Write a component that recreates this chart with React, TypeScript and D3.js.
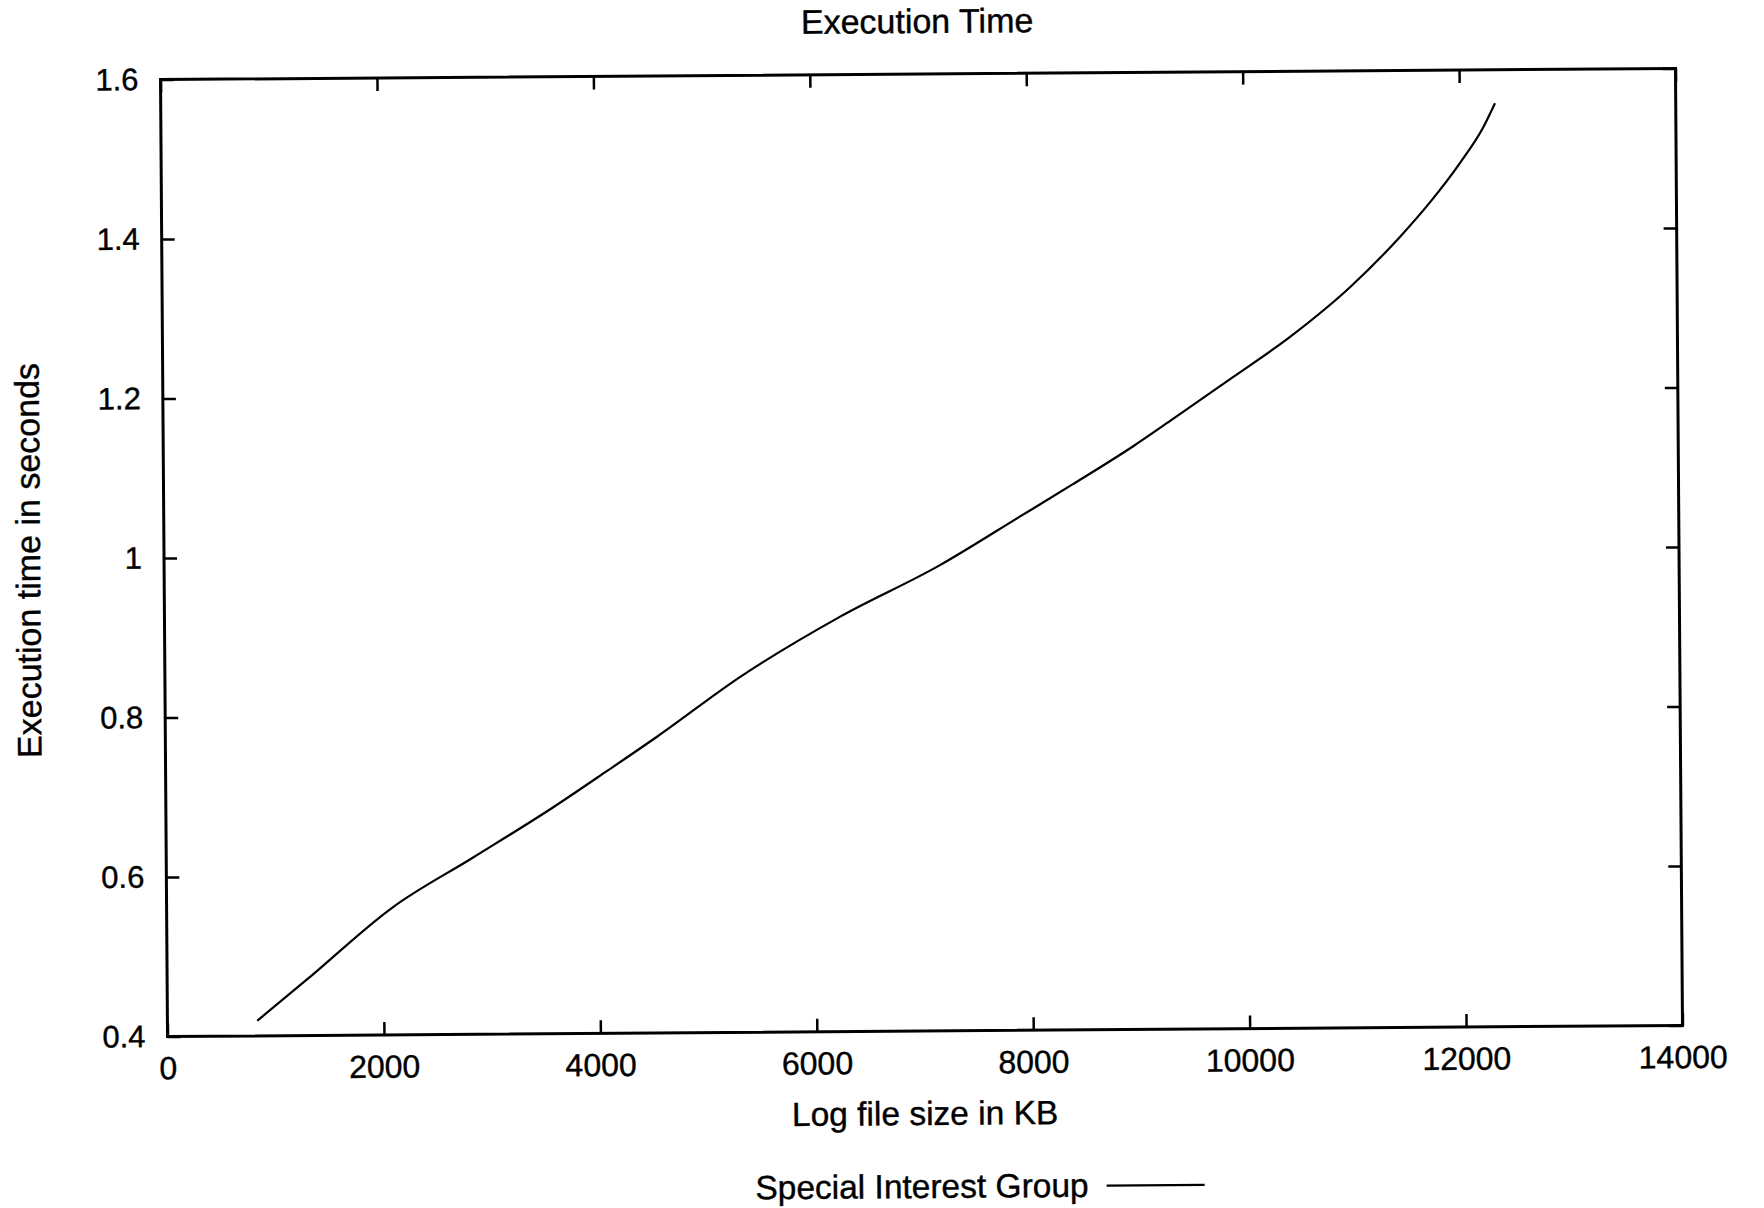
import * as d3 from 'd3';
import React, { useRef, useEffect } from 'react';

// values
const fileSizes = [830, 1290, 2090, 2840, 3580, 4080, 4550, 5320, 6240, 7170, 7910, 8400, 8960, 9310, 9890, 10420, 10980, 11440, 11720, 12000, 12220, 12330];
const execTimes = [0.419, 0.470, 0.560, 0.622, 0.684, 0.729, 0.772, 0.846, 0.920, 0.984, 1.044, 1.084, 1.131, 1.163, 1.217, 1.267, 1.329, 1.391, 1.434, 1.483, 1.528, 1.558];
const xTicks = [0, 2000, 4000, 6000, 8000, 10000, 12000, 14000];
const yTicks = [0.4, 0.6, 0.8, 1, 1.2, 1.4, 1.6];
const seriesName = 'Special Interest Group';

const FONT = '"Liberation Sans", Arial, Helvetica, sans-serif';

function ExecutionChart({ width, height }: { width: number; height: number }) {
  const ref = useRef<SVGSVGElement | null>(null);

  useEffect(() => {
    const left = 164, right = 1679, top = 74, bottom = 1031;

    const svg = d3.select(ref.current);
    svg.selectAll('*').remove();
    svg.attr('width', width).attr('height', height);

    svg.append('rect')
      .attr('width', width).attr('height', height)
      .attr('fill', '#fff');

    // the scan is tilted a little
    const g = svg.append('g').attr('transform', 'rotate(-0.42 921 552)');

    const x = d3.scaleLinear().domain([0, 14000]).range([left, right]);
    const y = d3.scaleLinear().domain([0.4, 1.6]).range([bottom, top]);

    const styleAxis = (sel: any, size: number) => {
      sel.select('.domain').remove();
      sel.selectAll('line').attr('stroke', '#000').attr('stroke-width', 2.5);
      sel.selectAll('text')
        .attr('fill', '#000')
        .attr('stroke', '#000')
        .attr('stroke-width', 0.4)
        .style('font-family', FONT)
        .style('font-size', size + 'px');
    };

    g.append('g')
      .attr('transform', `translate(0,${bottom})`)
      .call(d3.axisBottom(x).tickValues(xTicks).tickSizeInner(-13).tickSizeOuter(0).tickPadding(20).tickFormat((d: any) => String(d)))
      .call((s: any) => styleAxis(s, 32));

    g.append('g')
      .attr('transform', `translate(0,${top})`)
      .call(d3.axisTop(x).tickValues(xTicks).tickSizeInner(-13).tickSizeOuter(0).tickFormat(() => ''))
      .call((s: any) => styleAxis(s, 32));

    g.append('g')
      .attr('transform', `translate(${left},0)`)
      .call(d3.axisLeft(y).tickValues(yTicks).tickSizeInner(-13).tickSizeOuter(0).tickPadding(22).tickFormat((d: any) => String(d)))
      .call((s: any) => styleAxis(s, 31));

    g.append('g')
      .attr('transform', `translate(${right},0)`)
      .call(d3.axisRight(y).tickValues(yTicks).tickSizeInner(-13).tickSizeOuter(0).tickFormat(() => ''))
      .call((s: any) => styleAxis(s, 31));

    g.append('rect')
      .attr('x', left).attr('y', top)
      .attr('width', right - left).attr('height', bottom - top)
      .attr('fill', 'none')
      .attr('stroke', '#000')
      .attr('stroke-width', 3);

    const points: [number, number][] = fileSizes.map((v, i) => [v, execTimes[i]]);
    const line = d3.line<[number, number]>()
      .x(d => x(d[0]))
      .y(d => y(d[1]))
      .curve(d3.curveMonotoneX);

    g.append('path')
      .datum(points)
      .attr('d', line)
      .attr('fill', 'none')
      .attr('stroke', '#000')
      .attr('stroke-width', 2.2);

    const addText = (t: string, tx: number, ty: number, size: number, anchor = 'middle', rot = 0) => {
      g.append('text')
        .attr('x', tx).attr('y', ty)
        .attr('text-anchor', anchor)
        .attr('transform', rot ? `rotate(${rot} ${tx} ${ty})` : null)
        .attr('fill', '#000')
        .attr('stroke', '#000')
        .attr('stroke-width', 0.4)
        .style('font-family', FONT)
        .style('font-size', size + 'px')
        .text(t);
    };

    addText('Execution Time', 921, 33, 34);
    addText('Log file size in KB', 921, 1125, 33.5);
    addText('Execution time in seconds', 40, 554, 34, 'middle', -90);

    // legend
    addText(seriesName, 1084, 1198, 33.5, 'end');
    g.append('line')
      .attr('x1', 1102).attr('x2', 1200)
      .attr('y1', 1187).attr('y2', 1187)
      .attr('stroke', '#000')
      .attr('stroke-width', 2.2);
  });

  return (
    <svg ref={ref} style={{ position: 'absolute', left: 0, top: 0 }}></svg>
  );
}

export default function App() {
  return (
    <div className="chart">
      <ExecutionChart width={1764} height={1208} />
    </div>
  );
}
